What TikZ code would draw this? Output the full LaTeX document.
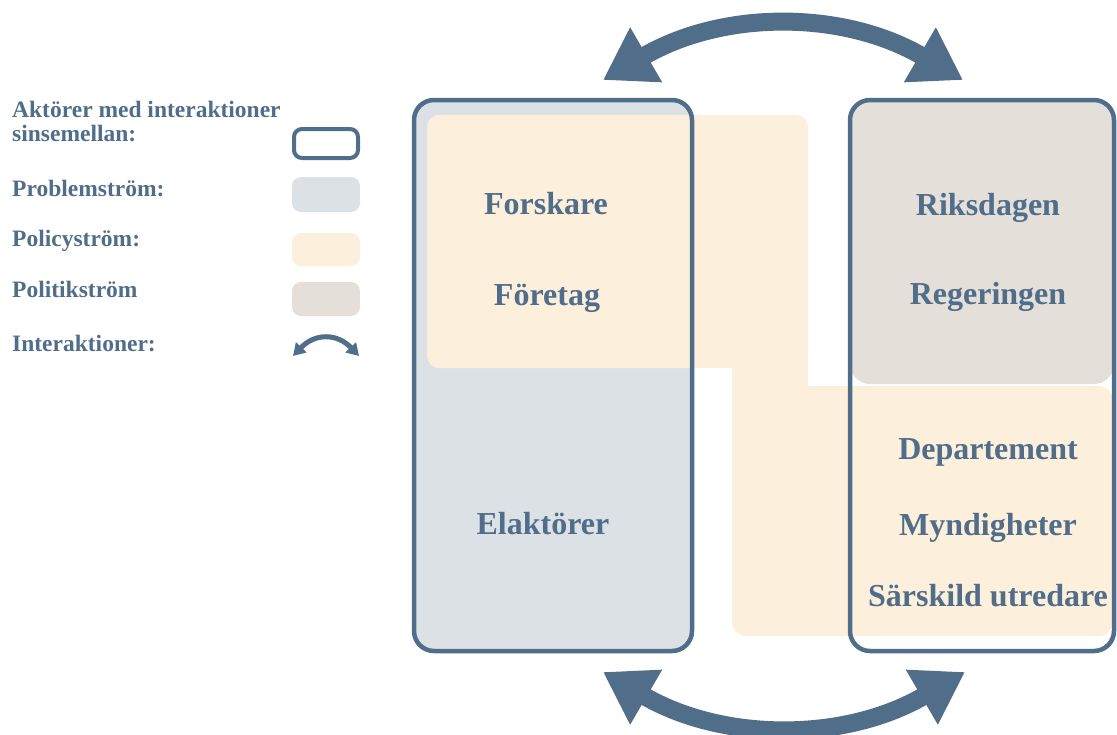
\documentclass[tikz,border=0pt]{standalone}
\usepackage{fontspec}
\setmainfont{Liberation Serif}
\usetikzlibrary{arrows.meta}
\definecolor{steel}{HTML}{506D8A}
\definecolor{probc}{HTML}{DCE1E6}
\definecolor{polc}{HTML}{FCEFDB}
\definecolor{politc}{HTML}{E4DFD9}
\tikzset{
  actorbox/.style={draw=steel, line width=4.5pt, rounded corners=20pt},
  lbl/.style={text=steel, font=\bfseries\fontsize{32}{37}\selectfont, anchor=base, inner sep=0pt},
  leg/.style={text=steel, font=\bfseries\fontsize{23.5}{27}\selectfont, anchor=base west, inner sep=0pt},
  bigarrow/.style={draw=steel, line width=18pt, {Triangle[length=50pt,width=60pt]}-{Triangle[length=50pt,width=60pt]}},
  smallarrow/.style={draw=steel, line width=5pt, {Triangle[length=12pt,width=14pt]}-{Triangle[length=12pt,width=14pt]}},
}
\begin{document}
\begin{tikzpicture}[x=1pt,y=-1pt]
\useasboundingbox (0,0) rectangle (1117,734);
% legend
\node[leg] (l1) at (12,117) {Aktörer med interaktioner};
\node[leg] (l1b) at (12,141) {sinsemellan:};
\node[leg] (l2) at (12,196) {Problemström:};
\node[leg] (l3) at (12,246) {Policyström:};
\node[leg] (l4) at (12,297) {Politikström};
\node[leg] (l5) at (12,351) {Interaktioner:};
\draw[draw=steel, line width=4pt, rounded corners=8pt] (294,129) rectangle (358,158);
\fill[probc, rounded corners=9pt] (292,177) rectangle (360,212);
\fill[polc, rounded corners=9pt] (292,233) rectangle (360,266);
\fill[politc, rounded corners=9pt] (292,282) rectangle (360,316);
\coordinate (sl) at (293,356);
\coordinate (sr) at (359,356);
\draw[smallarrow] (sl) .. controls (315,333) and (337,333) .. (sr);
% fills
\fill[probc, rounded corners=20pt] (414,100) rectangle (692,651);
\fill[politc, rounded corners=20pt] (850,100) rectangle (1114,384);
\fill[polc, rounded corners=12pt] (427,115) rectangle (808,368);
\fill[polc] (732,340) rectangle (808,400);
\fill[polc, rounded corners=14pt] (732,386) rectangle (1113,636);
% outlines
\draw[actorbox] (414,100) rectangle (692,651);
\draw[actorbox] (850,100) rectangle (1114,651);
% labels
\node[lbl] (forskare) at (546,214) {Forskare};
\node[lbl] (foretag) at (547,305) {Företag};
\node[lbl] (elakt) at (543,534) {Elaktörer};
\node[lbl] (riks) at (988,215) {Riksdagen};
\node[lbl] (reg) at (988,304) {Regeringen};
\node[lbl] (dep) at (988,459) {Departement};
\node[lbl] (myn) at (988,535) {Myndigheter};
\node[lbl] (sar) at (988,606) {Särskild utredare};
% big arrows
\coordinate (tl) at (603,80);
\coordinate (tr) at (963,80);
\coordinate (bl) at (603,672);
\coordinate (br) at (965,672);
\draw[bigarrow] (tl) .. controls (723,10) and (843,10) .. (tr);
\draw[bigarrow] (bl) .. controls (723,742) and (845,742) .. (br);
\end{tikzpicture}
\end{document}
